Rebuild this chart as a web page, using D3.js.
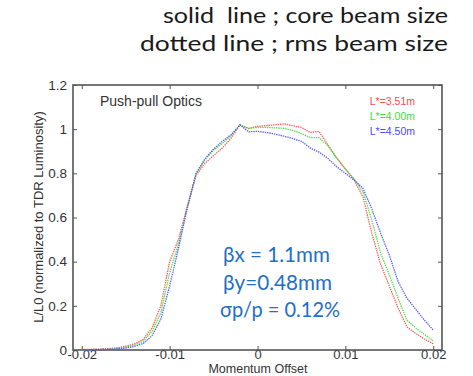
<!DOCTYPE html>
<html>
<head>
<meta charset="utf-8">
<script src="https://cdn.jsdelivr.net/npm/d3@7"></script>
<style>
  html, body { margin: 0; padding: 0; background: #fff; }
  svg { display: block; }
</style>
</head>
<body>
<svg id="chart" width="473" height="376"></svg>
<script>
// Momentum offset samples (dp/p)
const offsets = d3.range(41).map(i => +(-0.02 + i * 0.001).toFixed(3));

// Normalized luminosity L/L0 for each L* setting
const lumiL351 = [0.002,0.003,0.004,0.006,0.010,0.017,0.028,0.048,0.100,0.200,0.400,
  0.500,0.650,0.790,0.845,0.880,0.915,0.960,1.019,1.003,1.013,1.016,1.020,1.024,1.016,
  1.008,0.985,0.990,0.930,0.870,0.820,0.770,0.694,0.530,0.390,0.290,0.190,0.105,0.075,0.050,0.028];
const lumiL400 = [0.001,0.002,0.003,0.004,0.007,0.013,0.022,0.040,0.085,0.170,0.350,
  0.480,0.645,0.795,0.860,0.905,0.935,0.970,1.019,1.004,1.008,1.008,1.006,1.004,0.995,
  0.980,0.962,0.962,0.925,0.870,0.820,0.775,0.717,0.590,0.440,0.340,0.235,0.135,0.100,0.070,0.042];
const lumiL450 = [0.001,0.001,0.002,0.003,0.005,0.009,0.016,0.030,0.065,0.140,0.290,
  0.460,0.640,0.800,0.865,0.910,0.945,0.975,1.019,0.988,0.990,0.985,0.978,0.968,0.958,
  0.945,0.915,0.896,0.868,0.830,0.800,0.770,0.732,0.640,0.530,0.430,0.310,0.235,0.185,0.135,0.090];

const seriesNames = ["L*=3.51m", "L*=4.00m", "L*=4.50m"];
const seriesColors = ["#ff4a4a", "#3ade3a", "#4a4aff"];
const seriesValues = [lumiL351, lumiL400, lumiL450];

const xTicks = [-0.02, -0.01, 0, 0.01, 0.02];
const yTicks = [0, 0.2, 0.4, 0.6, 0.8, 1, 1.2];

const headerLines = ["solid  line ; core beam size", "dotted line ; rms beam size"];
const beamParams = ["\u03B2x = 1.1mm", "\u03B2y=0.48mm", "\u03C3p/p = 0.12%"];

const svg = d3.select("#chart");
const plot = { left: 73, right: 442, top: 85, bottom: 350 };

const x = d3.scaleLinear().domain([-0.021, 0.021]).range([plot.left, plot.right]);
const y = d3.scaleLinear().domain([0, 1.2]).range([plot.bottom, plot.top]);

// Header text (right-aligned block, fitted widths)
const headerWidths = [285, 308];
svg.selectAll("text.header").data(headerLines).join("text")
  .attr("class", "header")
  .attr("x", (d, i) => 448 - headerWidths[i]).attr("y", (d, i) => 23 + i * 28)
  .attr("textLength", (d, i) => headerWidths[i])
  .attr("lengthAdjust", "spacingAndGlyphs")
  .attr("font-family", "Lato, 'Open Sans', sans-serif")
  .attr("font-size", 21.5)
  .attr("fill", "#1a1a1a")
  .attr("xml:space", "preserve")
  .text(d => d);

const axisColor = "#555";
const tickFont = "'Liberation Sans', Arial, sans-serif";

// Axes with inward ticks on all four sides
const g = svg.append("g");
const bottomAxis = d3.axisBottom(x).tickValues(xTicks).tickSizeInner(-4).tickSizeOuter(0)
  .tickPadding(0).tickFormat(d => String(d));
const leftAxis = d3.axisLeft(y).tickValues(yTicks).tickSizeInner(-4).tickSizeOuter(0)
  .tickPadding(6).tickFormat(d => String(d));
const topAxis = d3.axisTop(x).tickValues(xTicks).tickSizeInner(-4).tickSizeOuter(0).tickFormat("");
const rightAxis = d3.axisRight(y).tickValues(yTicks).tickSizeInner(-4).tickSizeOuter(0).tickFormat("");

function styleAxis(sel, size) {
  sel.select(".domain").remove();
  sel.selectAll("line").attr("stroke", axisColor).attr("stroke-width", 1);
  sel.selectAll("text").attr("fill", "#333").attr("font-family", tickFont).attr("font-size", size);
}
g.append("g").attr("transform", `translate(0,${plot.bottom})`).call(bottomAxis).call(styleAxis, 13);
g.append("g").attr("transform", `translate(${plot.left},0)`).call(leftAxis).call(styleAxis, 13.5);
g.append("g").attr("transform", `translate(0,${plot.top})`).call(topAxis).call(styleAxis, 13);
g.append("g").attr("transform", `translate(${plot.right},0)`).call(rightAxis).call(styleAxis, 13);

g.append("rect")
  .attr("x", plot.left).attr("y", plot.top)
  .attr("width", plot.right - plot.left).attr("height", plot.bottom - plot.top)
  .attr("fill", "none").attr("stroke", axisColor).attr("stroke-width", 1.6);

// Curves
const line = d3.line().x(d => x(d[0])).y(d => y(d[1]));
seriesValues.forEach((vals, i) => {
  svg.append("path")
    .datum(offsets.map((o, k) => [o, vals[k]]))
    .attr("d", line)
    .attr("fill", "none")
    .attr("stroke", seriesColors[i])
    .attr("stroke-width", 1.3)
    .attr("stroke-dasharray", "1.4,0.9")
    .attr("opacity", 0.9);
});

// Legend
svg.selectAll("text.legend").data(seriesNames).join("text")
  .attr("class", "legend")
  .attr("x", 415).attr("y", (d, i) => 105 + i * 15)
  .attr("text-anchor", "end")
  .attr("font-family", tickFont)
  .attr("font-size", 10.5)
  .attr("fill", (d, i) => seriesColors[i])
  .text(d => d);

// Panel title
svg.append("text")
  .attr("x", 100).attr("y", 106)
  .attr("font-family", tickFont).attr("font-size", 14).attr("fill", "#333")
  .text("Push-pull Optics");

// Axis titles
svg.append("text")
  .attr("x", 258).attr("y", 373.3)
  .attr("text-anchor", "middle")
  .attr("font-family", tickFont).attr("font-size", 12.5).attr("fill", "#333")
  .text("Momentum Offset");
svg.append("text")
  .attr("transform", "translate(43,217) rotate(-90)")
  .attr("text-anchor", "middle")
  .attr("font-family", tickFont).attr("font-size", 13).attr("fill", "#333")
  .text("L/L0 (normalized to TDR Luminosity)");

// Beam parameters
const paramWidths = [107, 109, 120];
svg.selectAll("text.param").data(beamParams).join("text")
  .attr("class", "param")
  .attr("x", (d, i) => i === 2 ? 220 : 223).attr("y", (d, i) => 262 + i * 27.5)
  .attr("textLength", (d, i) => paramWidths[i])
  .attr("lengthAdjust", "spacingAndGlyphs")
  .attr("font-family", "Lato, 'Open Sans', sans-serif")
  .attr("font-size", 21)
  .attr("fill", "#1f6fc6")
  .text(d => d);
</script>
</body>
</html>
